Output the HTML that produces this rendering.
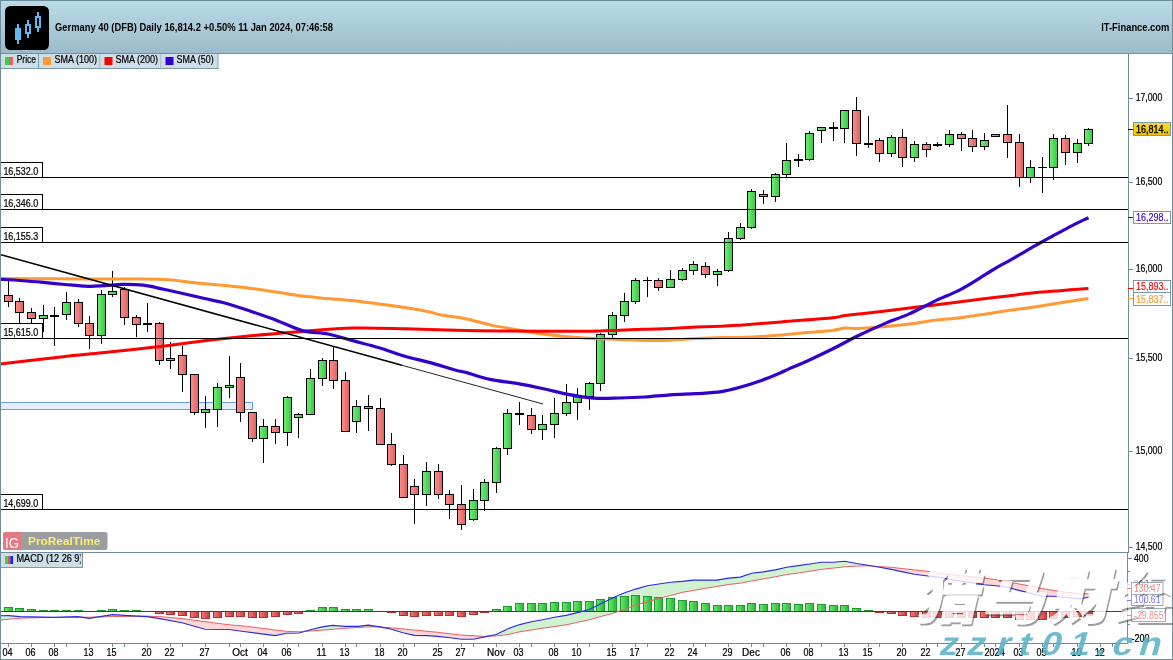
<!DOCTYPE html>
<html lang="en"><head><meta charset="utf-8"><title>Germany 40 (DFB) Daily</title>
<style>
html,body{margin:0;padding:0;background:#fff;}
body{width:1173px;height:660px;overflow:hidden;font-family:'Liberation Sans', sans-serif;}
svg{display:block;}
text{font-family:'Liberation Sans', sans-serif;}
text.s{stroke:#000;stroke-width:0.22px;}
.cjk{font-family:'Liberation Sans', 'Noto Sans CJK SC', sans-serif;}
</style></head><body>
<svg width="1173" height="660" viewBox="0 0 1173 660">
<defs>
<linearGradient id="hdr" x1="0" y1="0" x2="0" y2="1"><stop offset="0" stop-color="#badbe8"/><stop offset="1" stop-color="#9bbbca"/></linearGradient>
<linearGradient id="gg" x1="0" y1="0" x2="1" y2="0"><stop offset="0" stop-color="#6cf06c"/><stop offset="1" stop-color="#3cc84c"/></linearGradient>
<linearGradient id="rg" x1="0" y1="0" x2="1" y2="0"><stop offset="0" stop-color="#ff8a8a"/><stop offset="1" stop-color="#dc6464"/></linearGradient>
<linearGradient id="hg" x1="0" y1="0" x2="1" y2="0"><stop offset="0" stop-color="#66e866"/><stop offset="1" stop-color="#2eb83e"/></linearGradient>
<linearGradient id="hr" x1="0" y1="0" x2="1" y2="0"><stop offset="0" stop-color="#f07878"/><stop offset="1" stop-color="#cc3c3c"/></linearGradient>
<linearGradient id="yl" x1="0" y1="0" x2="0" y2="1"><stop offset="0" stop-color="#ffdc28"/><stop offset="1" stop-color="#f2c000"/></linearGradient>
<clipPath id="macdclip"><rect x="2" y="553" width="78.8" height="14"/></clipPath>
</defs>
<rect x="0" y="0" width="1173" height="660" fill="#fff"/>

<rect x="0" y="0" width="1173" height="53" fill="url(#hdr)"/>
<rect x="0" y="53" width="1173" height="1" fill="#7391a0"/>
<rect x="5" y="6" width="44" height="44" rx="5.5" ry="5.5" fill="#000"/>
<g fill="#5fb8ee" shape-rendering="crispEdges">
<rect x="17" y="24" width="2" height="20"/><rect x="15" y="28" width="6" height="12"/>
<rect x="27" y="20" width="2" height="18"/><rect x="25" y="24" width="6" height="10"/><rect x="27" y="26" width="2" height="6" fill="#000"/>
<rect x="37" y="12" width="2" height="20"/><rect x="35" y="16" width="6" height="12"/><rect x="37" y="18" width="2" height="8" fill="#000"/>
</g>
<text x="55" y="30.8" font-size="10" font-weight="bold" fill="#000" textLength="278" lengthAdjust="spacingAndGlyphs">Germany 40 (DFB) Daily 16,814.2 +0.50% 11 Jan 2024, 07:46:58</text>
<text x="1101.2" y="30.8" font-size="10" font-weight="bold" fill="#000" textLength="68.2" lengthAdjust="spacingAndGlyphs">IT-Finance.com</text>
<rect x="1" y="54" width="37" height="14" fill="#cddee6"/>
<rect x="38" y="54" width="1" height="15" fill="#7c99a7"/>
<rect x="5" y="57" width="4" height="8" fill="#44cc44"/><rect x="9" y="57" width="4" height="8" fill="#e26464"/>
<text x="16.7" y="63" class="s" font-size="10" fill="#000" textLength="19.3" lengthAdjust="spacingAndGlyphs">Price</text>
<rect x="39" y="54" width="60.5" height="14" fill="#cddee6"/>
<rect x="99.5" y="54" width="1" height="15" fill="#7c99a7"/>
<rect x="43" y="57" width="8" height="8" fill="#ff9933"/>
<text x="54.5" y="63" class="s" font-size="10" fill="#000" textLength="42.6" lengthAdjust="spacingAndGlyphs">SMA (100)</text>
<rect x="100.5" y="54" width="60.0" height="14" fill="#cddee6"/>
<rect x="160.5" y="54" width="1" height="15" fill="#7c99a7"/>
<rect x="104.5" y="57" width="8" height="8" fill="#ff0000"/>
<text x="115.5" y="63" class="s" font-size="10" fill="#000" textLength="42.6" lengthAdjust="spacingAndGlyphs">SMA (200)</text>
<rect x="161.5" y="54" width="56.0" height="14" fill="#cddee6"/>
<rect x="217.5" y="54" width="1" height="15" fill="#7c99a7"/>
<rect x="165.5" y="57" width="8" height="8" fill="#3300cc"/>
<text x="176.5" y="63" class="s" font-size="10" fill="#000" textLength="37.2" lengthAdjust="spacingAndGlyphs">SMA (50)</text>
<rect x="1" y="68" width="217.5" height="1" fill="#7c99a7"/>
<rect x="0.5" y="402.5" width="252" height="7" fill="#e6edfc" stroke="#6a9cf5" stroke-width="1"/>
<g shape-rendering="crispEdges">
<rect x="8" y="280" width="1" height="27" fill="#000"/>
<rect x="4" y="295" width="9" height="7" fill="#000"/>
<rect x="5" y="296" width="7" height="5" fill="url(#rg)"/>
<rect x="19" y="298" width="1" height="26" fill="#000"/>
<rect x="15" y="301" width="9" height="12" fill="#000"/>
<rect x="16" y="302" width="7" height="10" fill="url(#rg)"/>
<rect x="31" y="308" width="1" height="16" fill="#000"/>
<rect x="27" y="312" width="9" height="7" fill="#000"/>
<rect x="28" y="313" width="7" height="5" fill="url(#rg)"/>
<rect x="43" y="305" width="1" height="27" fill="#000"/>
<rect x="39" y="315" width="9" height="4" fill="#000"/>
<rect x="40" y="316" width="7" height="2" fill="url(#gg)"/>
<rect x="54" y="307" width="1" height="39" fill="#000"/>
<rect x="50" y="315" width="9" height="2" fill="#000"/>
<rect x="66" y="292" width="1" height="28" fill="#000"/>
<rect x="62" y="302" width="9" height="13" fill="#000"/>
<rect x="63" y="303" width="7" height="11" fill="url(#gg)"/>
<rect x="78" y="299" width="1" height="28" fill="#000"/>
<rect x="74" y="302" width="9" height="22" fill="#000"/>
<rect x="75" y="303" width="7" height="20" fill="url(#rg)"/>
<rect x="89" y="316" width="1" height="33" fill="#000"/>
<rect x="85" y="323" width="9" height="13" fill="#000"/>
<rect x="86" y="324" width="7" height="11" fill="url(#rg)"/>
<rect x="101" y="290" width="1" height="54" fill="#000"/>
<rect x="97" y="294" width="9" height="42" fill="#000"/>
<rect x="98" y="295" width="7" height="40" fill="url(#gg)"/>
<rect x="112" y="271" width="1" height="26" fill="#000"/>
<rect x="108" y="291" width="9" height="4" fill="#000"/>
<rect x="109" y="292" width="7" height="2" fill="url(#gg)"/>
<rect x="124" y="287" width="1" height="38" fill="#000"/>
<rect x="120" y="289" width="9" height="29" fill="#000"/>
<rect x="121" y="290" width="7" height="27" fill="url(#rg)"/>
<rect x="136" y="315" width="1" height="22" fill="#000"/>
<rect x="132" y="317" width="9" height="8" fill="#000"/>
<rect x="133" y="318" width="7" height="6" fill="url(#rg)"/>
<rect x="147" y="303" width="1" height="29" fill="#000"/>
<rect x="143" y="323" width="9" height="2" fill="#000"/>
<rect x="159" y="322" width="1" height="43" fill="#000"/>
<rect x="155" y="323" width="9" height="38" fill="#000"/>
<rect x="156" y="324" width="7" height="36" fill="url(#rg)"/>
<rect x="170" y="342" width="1" height="27" fill="#000"/>
<rect x="166" y="358" width="9" height="3" fill="#000"/>
<rect x="167" y="359" width="7" height="1" fill="url(#gg)"/>
<rect x="182" y="346" width="1" height="46" fill="#000"/>
<rect x="178" y="355" width="9" height="20" fill="#000"/>
<rect x="179" y="356" width="7" height="18" fill="url(#rg)"/>
<rect x="194" y="374" width="1" height="41" fill="#000"/>
<rect x="190" y="374" width="9" height="39" fill="#000"/>
<rect x="191" y="375" width="7" height="37" fill="url(#rg)"/>
<rect x="205" y="396" width="1" height="32" fill="#000"/>
<rect x="201" y="409" width="9" height="4" fill="#000"/>
<rect x="202" y="410" width="7" height="2" fill="url(#gg)"/>
<rect x="217" y="383" width="1" height="44" fill="#000"/>
<rect x="213" y="387" width="9" height="23" fill="#000"/>
<rect x="214" y="388" width="7" height="21" fill="url(#gg)"/>
<rect x="229" y="356" width="1" height="42" fill="#000"/>
<rect x="225" y="385" width="9" height="3" fill="#000"/>
<rect x="226" y="386" width="7" height="1" fill="url(#gg)"/>
<rect x="240" y="363" width="1" height="59" fill="#000"/>
<rect x="236" y="377" width="9" height="36" fill="#000"/>
<rect x="237" y="378" width="7" height="34" fill="url(#rg)"/>
<rect x="252" y="412" width="1" height="30" fill="#000"/>
<rect x="248" y="412" width="9" height="27" fill="#000"/>
<rect x="249" y="413" width="7" height="25" fill="url(#rg)"/>
<rect x="263" y="419" width="1" height="44" fill="#000"/>
<rect x="259" y="426" width="9" height="13" fill="#000"/>
<rect x="260" y="427" width="7" height="11" fill="url(#gg)"/>
<rect x="275" y="419" width="1" height="25" fill="#000"/>
<rect x="271" y="426" width="9" height="7" fill="#000"/>
<rect x="272" y="427" width="7" height="5" fill="url(#rg)"/>
<rect x="287" y="396" width="1" height="50" fill="#000"/>
<rect x="283" y="397" width="9" height="36" fill="#000"/>
<rect x="284" y="398" width="7" height="34" fill="url(#gg)"/>
<rect x="298" y="413" width="1" height="25" fill="#000"/>
<rect x="294" y="414" width="9" height="4" fill="#000"/>
<rect x="295" y="415" width="7" height="2" fill="url(#gg)"/>
<rect x="310" y="369" width="1" height="45" fill="#000"/>
<rect x="306" y="378" width="9" height="37" fill="#000"/>
<rect x="307" y="379" width="7" height="35" fill="url(#gg)"/>
<rect x="322" y="358" width="1" height="28" fill="#000"/>
<rect x="318" y="360" width="9" height="19" fill="#000"/>
<rect x="319" y="361" width="7" height="17" fill="url(#gg)"/>
<rect x="333" y="347" width="1" height="42" fill="#000"/>
<rect x="329" y="360" width="9" height="21" fill="#000"/>
<rect x="330" y="361" width="7" height="19" fill="url(#rg)"/>
<rect x="345" y="372" width="1" height="60" fill="#000"/>
<rect x="341" y="380" width="9" height="52" fill="#000"/>
<rect x="342" y="381" width="7" height="50" fill="url(#rg)"/>
<rect x="356" y="400" width="1" height="33" fill="#000"/>
<rect x="352" y="406" width="9" height="16" fill="#000"/>
<rect x="353" y="407" width="7" height="14" fill="url(#gg)"/>
<rect x="368" y="395" width="1" height="36" fill="#000"/>
<rect x="364" y="406" width="9" height="3" fill="#000"/>
<rect x="365" y="407" width="7" height="1" fill="url(#rg)"/>
<rect x="380" y="398" width="1" height="47" fill="#000"/>
<rect x="376" y="408" width="9" height="37" fill="#000"/>
<rect x="377" y="409" width="7" height="35" fill="url(#rg)"/>
<rect x="391" y="433" width="1" height="33" fill="#000"/>
<rect x="387" y="444" width="9" height="21" fill="#000"/>
<rect x="388" y="445" width="7" height="19" fill="url(#rg)"/>
<rect x="403" y="455" width="1" height="43" fill="#000"/>
<rect x="399" y="464" width="9" height="34" fill="#000"/>
<rect x="400" y="465" width="7" height="32" fill="url(#rg)"/>
<rect x="414" y="479" width="1" height="45" fill="#000"/>
<rect x="410" y="486" width="9" height="9" fill="#000"/>
<rect x="411" y="487" width="7" height="7" fill="url(#rg)"/>
<rect x="426" y="462" width="1" height="44" fill="#000"/>
<rect x="422" y="471" width="9" height="24" fill="#000"/>
<rect x="423" y="472" width="7" height="22" fill="url(#gg)"/>
<rect x="438" y="464" width="1" height="35" fill="#000"/>
<rect x="434" y="471" width="9" height="24" fill="#000"/>
<rect x="435" y="472" width="7" height="22" fill="url(#rg)"/>
<rect x="449" y="490" width="1" height="29" fill="#000"/>
<rect x="445" y="494" width="9" height="11" fill="#000"/>
<rect x="446" y="495" width="7" height="9" fill="url(#rg)"/>
<rect x="461" y="485" width="1" height="45" fill="#000"/>
<rect x="457" y="504" width="9" height="21" fill="#000"/>
<rect x="458" y="505" width="7" height="19" fill="url(#rg)"/>
<rect x="473" y="489" width="1" height="32" fill="#000"/>
<rect x="469" y="500" width="9" height="20" fill="#000"/>
<rect x="470" y="501" width="7" height="18" fill="url(#gg)"/>
<rect x="484" y="479" width="1" height="32" fill="#000"/>
<rect x="480" y="482" width="9" height="19" fill="#000"/>
<rect x="481" y="483" width="7" height="17" fill="url(#gg)"/>
<rect x="496" y="447" width="1" height="46" fill="#000"/>
<rect x="492" y="448" width="9" height="35" fill="#000"/>
<rect x="493" y="449" width="7" height="33" fill="url(#gg)"/>
<rect x="507" y="409" width="1" height="46" fill="#000"/>
<rect x="503" y="413" width="9" height="36" fill="#000"/>
<rect x="504" y="414" width="7" height="34" fill="url(#gg)"/>
<rect x="519" y="402" width="1" height="23" fill="#000"/>
<rect x="515" y="413" width="9" height="2" fill="#000"/>
<rect x="531" y="408" width="1" height="26" fill="#000"/>
<rect x="527" y="415" width="9" height="15" fill="#000"/>
<rect x="528" y="416" width="7" height="13" fill="url(#rg)"/>
<rect x="542" y="415" width="1" height="25" fill="#000"/>
<rect x="538" y="424" width="9" height="6" fill="#000"/>
<rect x="539" y="425" width="7" height="4" fill="url(#gg)"/>
<rect x="554" y="398" width="1" height="40" fill="#000"/>
<rect x="550" y="413" width="9" height="12" fill="#000"/>
<rect x="551" y="414" width="7" height="10" fill="url(#gg)"/>
<rect x="566" y="384" width="1" height="32" fill="#000"/>
<rect x="562" y="402" width="9" height="12" fill="#000"/>
<rect x="563" y="403" width="7" height="10" fill="url(#gg)"/>
<rect x="577" y="388" width="1" height="32" fill="#000"/>
<rect x="573" y="395" width="9" height="8" fill="#000"/>
<rect x="574" y="396" width="7" height="6" fill="url(#gg)"/>
<rect x="589" y="382" width="1" height="28" fill="#000"/>
<rect x="585" y="383" width="9" height="14" fill="#000"/>
<rect x="586" y="384" width="7" height="12" fill="url(#gg)"/>
<rect x="600" y="333" width="1" height="58" fill="#000"/>
<rect x="596" y="334" width="9" height="50" fill="#000"/>
<rect x="597" y="335" width="7" height="48" fill="url(#gg)"/>
<rect x="612" y="312" width="1" height="26" fill="#000"/>
<rect x="608" y="315" width="9" height="20" fill="#000"/>
<rect x="609" y="316" width="7" height="18" fill="url(#gg)"/>
<rect x="624" y="293" width="1" height="29" fill="#000"/>
<rect x="620" y="301" width="9" height="15" fill="#000"/>
<rect x="621" y="302" width="7" height="13" fill="url(#gg)"/>
<rect x="635" y="278" width="1" height="26" fill="#000"/>
<rect x="631" y="280" width="9" height="22" fill="#000"/>
<rect x="632" y="281" width="7" height="20" fill="url(#gg)"/>
<rect x="647" y="277" width="1" height="20" fill="#000"/>
<rect x="643" y="280" width="9" height="1" fill="#000"/>
<rect x="658" y="278" width="1" height="13" fill="#000"/>
<rect x="654" y="280" width="9" height="8" fill="#000"/>
<rect x="655" y="281" width="7" height="6" fill="url(#rg)"/>
<rect x="670" y="270" width="1" height="18" fill="#000"/>
<rect x="666" y="279" width="9" height="9" fill="#000"/>
<rect x="667" y="280" width="7" height="7" fill="url(#gg)"/>
<rect x="682" y="268" width="1" height="13" fill="#000"/>
<rect x="678" y="270" width="9" height="10" fill="#000"/>
<rect x="679" y="271" width="7" height="8" fill="url(#gg)"/>
<rect x="693" y="261" width="1" height="14" fill="#000"/>
<rect x="689" y="264" width="9" height="7" fill="#000"/>
<rect x="690" y="265" width="7" height="5" fill="url(#gg)"/>
<rect x="705" y="262" width="1" height="16" fill="#000"/>
<rect x="701" y="266" width="9" height="9" fill="#000"/>
<rect x="702" y="267" width="7" height="7" fill="url(#rg)"/>
<rect x="717" y="269" width="1" height="17" fill="#000"/>
<rect x="713" y="271" width="9" height="4" fill="#000"/>
<rect x="714" y="272" width="7" height="2" fill="url(#gg)"/>
<rect x="728" y="232" width="1" height="40" fill="#000"/>
<rect x="724" y="238" width="9" height="33" fill="#000"/>
<rect x="725" y="239" width="7" height="31" fill="url(#gg)"/>
<rect x="740" y="223" width="1" height="17" fill="#000"/>
<rect x="736" y="227" width="9" height="12" fill="#000"/>
<rect x="737" y="228" width="7" height="10" fill="url(#gg)"/>
<rect x="751" y="189" width="1" height="40" fill="#000"/>
<rect x="747" y="191" width="9" height="37" fill="#000"/>
<rect x="748" y="192" width="7" height="35" fill="url(#gg)"/>
<rect x="763" y="190" width="1" height="14" fill="#000"/>
<rect x="759" y="194" width="9" height="3" fill="#000"/>
<rect x="760" y="195" width="7" height="1" fill="url(#rg)"/>
<rect x="775" y="173" width="1" height="29" fill="#000"/>
<rect x="771" y="174" width="9" height="23" fill="#000"/>
<rect x="772" y="175" width="7" height="21" fill="url(#gg)"/>
<rect x="786" y="143" width="1" height="35" fill="#000"/>
<rect x="782" y="160" width="9" height="15" fill="#000"/>
<rect x="783" y="161" width="7" height="13" fill="url(#gg)"/>
<rect x="798" y="154" width="1" height="13" fill="#000"/>
<rect x="794" y="159" width="9" height="2" fill="#000"/>
<rect x="809" y="131" width="1" height="30" fill="#000"/>
<rect x="805" y="133" width="9" height="27" fill="#000"/>
<rect x="806" y="134" width="7" height="25" fill="url(#gg)"/>
<rect x="821" y="127" width="1" height="16" fill="#000"/>
<rect x="817" y="127" width="9" height="4" fill="#000"/>
<rect x="818" y="128" width="7" height="2" fill="url(#gg)"/>
<rect x="833" y="122" width="1" height="19" fill="#000"/>
<rect x="829" y="127" width="9" height="2" fill="#000"/>
<rect x="844" y="110" width="1" height="33" fill="#000"/>
<rect x="840" y="110" width="9" height="19" fill="#000"/>
<rect x="841" y="111" width="7" height="17" fill="url(#gg)"/>
<rect x="856" y="97" width="1" height="59" fill="#000"/>
<rect x="852" y="110" width="9" height="34" fill="#000"/>
<rect x="853" y="111" width="7" height="32" fill="url(#rg)"/>
<rect x="868" y="116" width="1" height="32" fill="#000"/>
<rect x="864" y="143" width="9" height="2" fill="#000"/>
<rect x="879" y="138" width="1" height="24" fill="#000"/>
<rect x="875" y="140" width="9" height="14" fill="#000"/>
<rect x="876" y="141" width="7" height="12" fill="url(#rg)"/>
<rect x="891" y="135" width="1" height="22" fill="#000"/>
<rect x="887" y="137" width="9" height="17" fill="#000"/>
<rect x="888" y="138" width="7" height="15" fill="url(#gg)"/>
<rect x="902" y="129" width="1" height="38" fill="#000"/>
<rect x="898" y="137" width="9" height="21" fill="#000"/>
<rect x="899" y="138" width="7" height="19" fill="url(#rg)"/>
<rect x="914" y="141" width="1" height="21" fill="#000"/>
<rect x="910" y="144" width="9" height="14" fill="#000"/>
<rect x="911" y="145" width="7" height="12" fill="url(#gg)"/>
<rect x="926" y="142" width="1" height="15" fill="#000"/>
<rect x="922" y="144" width="9" height="6" fill="#000"/>
<rect x="923" y="145" width="7" height="4" fill="url(#rg)"/>
<rect x="937" y="142" width="1" height="5" fill="#000"/>
<rect x="933" y="144" width="9" height="2" fill="#000"/>
<rect x="949" y="130" width="1" height="17" fill="#000"/>
<rect x="945" y="134" width="9" height="11" fill="#000"/>
<rect x="946" y="135" width="7" height="9" fill="url(#gg)"/>
<rect x="961" y="132" width="1" height="19" fill="#000"/>
<rect x="957" y="134" width="9" height="5" fill="#000"/>
<rect x="958" y="135" width="7" height="3" fill="url(#rg)"/>
<rect x="972" y="130" width="1" height="22" fill="#000"/>
<rect x="968" y="138" width="9" height="9" fill="#000"/>
<rect x="969" y="139" width="7" height="7" fill="url(#rg)"/>
<rect x="984" y="133" width="1" height="17" fill="#000"/>
<rect x="980" y="140" width="9" height="7" fill="#000"/>
<rect x="981" y="141" width="7" height="5" fill="url(#gg)"/>
<rect x="995" y="134" width="1" height="2" fill="#000"/>
<rect x="991" y="134" width="9" height="3" fill="#000"/>
<rect x="992" y="135" width="7" height="1" fill="url(#gg)"/>
<rect x="1007" y="105" width="1" height="53" fill="#000"/>
<rect x="1003" y="134" width="9" height="9" fill="#000"/>
<rect x="1004" y="135" width="7" height="7" fill="url(#rg)"/>
<rect x="1019" y="134" width="1" height="53" fill="#000"/>
<rect x="1015" y="142" width="9" height="36" fill="#000"/>
<rect x="1016" y="143" width="7" height="34" fill="url(#rg)"/>
<rect x="1030" y="160" width="1" height="23" fill="#000"/>
<rect x="1026" y="167" width="9" height="11" fill="#000"/>
<rect x="1027" y="168" width="7" height="9" fill="url(#gg)"/>
<rect x="1042" y="157" width="1" height="36" fill="#000"/>
<rect x="1038" y="167" width="9" height="1" fill="#000"/>
<rect x="1053" y="134" width="1" height="46" fill="#000"/>
<rect x="1049" y="138" width="9" height="30" fill="#000"/>
<rect x="1050" y="139" width="7" height="28" fill="url(#gg)"/>
<rect x="1065" y="135" width="1" height="30" fill="#000"/>
<rect x="1061" y="138" width="9" height="15" fill="#000"/>
<rect x="1062" y="139" width="7" height="13" fill="url(#rg)"/>
<rect x="1077" y="139" width="1" height="24" fill="#000"/>
<rect x="1073" y="143" width="9" height="10" fill="#000"/>
<rect x="1074" y="144" width="7" height="8" fill="url(#gg)"/>
<rect x="1088" y="128" width="1" height="18" fill="#000"/>
<rect x="1084" y="129" width="9" height="15" fill="#000"/>
<rect x="1085" y="130" width="7" height="13" fill="url(#gg)"/>
</g>
<path d="M0.0,278.5 C10.2,278.6 40.5,278.7 61.0,278.8 C81.5,278.9 105.7,279.0 122.8,279.1 C139.9,279.2 150.8,278.8 163.7,279.5 C176.6,280.2 189.8,282.3 200.0,283.3 C210.2,284.3 216.5,284.8 225.0,285.6 C233.5,286.5 242.7,287.3 251.2,288.4 C259.7,289.5 267.5,290.7 276.0,292.0 C284.5,293.3 293.7,295.0 302.4,296.1 C311.1,297.2 319.5,297.8 328.0,298.6 C336.5,299.4 345.1,299.8 353.6,300.7 C362.1,301.6 370.5,302.9 379.0,304.0 C387.5,305.1 396.3,306.3 404.8,307.6 C413.3,308.9 424.1,310.8 430.0,312.0 C435.9,313.2 434.1,313.7 440.0,314.8 C445.9,315.9 457.1,317.0 465.6,318.7 C474.1,320.4 482.7,323.3 491.2,325.1 C499.7,326.9 508.3,328.2 516.8,329.7 C525.3,331.2 533.9,332.8 542.4,334.0 C550.9,335.2 559.5,336.0 568.0,336.8 C576.5,337.6 585.1,338.2 593.6,338.6 C602.1,339.0 610.7,339.1 619.2,339.4 C627.7,339.7 636.3,340.3 644.8,340.4 C653.3,340.5 661.9,340.5 670.4,340.2 C678.9,339.9 687.5,339.0 696.0,338.6 C704.5,338.2 714.2,337.8 721.5,337.6 C728.8,337.4 732.6,337.6 740.0,337.4 C747.4,337.2 754.7,337.0 765.8,336.2 C776.9,335.4 795.7,333.6 806.8,332.6 C817.9,331.7 826.0,331.3 832.4,330.5 C838.8,329.7 840.9,328.3 845.2,328.0 C849.5,327.7 851.6,328.7 858.0,328.5 C864.4,328.3 875.1,327.4 883.6,326.7 C892.1,326.0 900.7,325.2 909.2,324.1 C917.7,323.0 926.3,321.4 934.8,320.3 C943.3,319.2 951.9,318.8 960.4,317.7 C968.9,316.6 977.5,315.2 986.0,313.9 C994.5,312.6 1003.1,311.3 1011.5,310.1 C1019.9,308.9 1029.1,307.9 1036.3,306.8 C1043.5,305.7 1045.8,305.1 1054.5,303.7 C1063.2,302.3 1082.8,299.5 1088.5,298.6" fill="none" stroke="#ff9933" stroke-width="3" stroke-linejoin="round"/>
<path d="M0.0,364.0 C10.2,362.8 44.3,358.8 61.4,356.9 C78.5,355.0 86.6,354.4 102.3,352.8 C118.0,351.2 138.4,349.0 155.5,347.0 C172.6,345.0 188.7,342.7 204.6,340.8 C220.5,338.9 234.9,337.3 251.2,335.7 C267.5,334.1 285.3,332.7 302.4,331.4 C319.5,330.1 336.5,328.5 353.6,328.1 C370.7,327.7 387.7,328.4 404.8,328.8 C421.9,329.2 440.1,329.9 456.0,330.3 C471.9,330.7 485.7,330.9 500.0,331.0 C514.3,331.1 528.7,331.2 542.0,331.2 C555.3,331.2 570.3,331.2 580.0,331.2 C589.7,331.2 593.5,331.2 600.0,331.0 C606.5,330.8 611.7,330.5 619.2,330.2 C626.7,329.9 636.3,329.5 644.8,329.2 C653.3,328.9 661.9,328.8 670.4,328.4 C678.9,328.0 687.5,327.5 696.0,327.1 C704.5,326.8 714.2,326.6 721.5,326.3 C728.8,326.0 730.0,325.9 740.0,325.2 C750.0,324.5 765.8,323.1 781.2,321.9 C796.6,320.6 821.7,318.8 832.4,317.7 C843.1,316.6 836.7,316.7 845.2,315.6 C853.7,314.5 868.7,313.1 883.6,311.3 C898.5,309.5 917.7,307.0 934.8,304.9 C951.9,302.8 973.2,300.1 986.0,298.5 C998.8,296.9 1003.1,296.5 1011.5,295.5 C1019.9,294.5 1023.5,293.8 1036.3,292.6 C1049.1,291.4 1079.8,289.1 1088.5,288.4" fill="none" stroke="#ff0000" stroke-width="3" stroke-linejoin="round"/>
<path d="M0.0,279.3 C3.3,279.5 13.2,280.0 20.0,280.5 C26.8,281.0 33.4,281.5 40.9,282.2 C48.4,282.9 57.1,283.8 65.0,284.5 C72.8,285.2 81.3,286.1 88.0,286.3 C94.7,286.5 99.2,285.9 105.0,285.6 C110.8,285.3 116.4,284.5 122.8,284.4 C129.2,284.3 136.4,284.4 143.2,285.2 C150.0,286.0 156.7,287.8 163.7,289.3 C170.7,290.8 178.2,292.5 185.0,294.0 C191.8,295.5 197.8,297.0 204.6,298.5 C211.4,300.0 217.8,301.1 225.6,303.2 C233.4,305.3 242.7,308.5 251.2,311.4 C259.7,314.3 268.3,317.2 276.8,320.4 C285.3,323.6 293.9,328.3 302.4,330.6 C310.9,332.9 319.5,332.3 328.0,334.0 C336.5,335.7 345.1,338.6 353.6,340.9 C362.1,343.2 370.7,345.2 379.2,347.8 C387.7,350.4 396.3,353.7 404.8,356.2 C413.3,358.7 421.9,360.2 430.4,362.6 C438.9,365.0 450.1,368.7 456.0,370.3 C461.9,371.9 459.7,370.8 465.6,372.4 C471.5,373.9 482.7,377.8 491.2,379.6 C499.7,381.4 508.3,381.9 516.8,383.4 C525.3,384.9 533.9,386.7 542.4,388.5 C550.9,390.3 559.5,392.8 568.0,394.4 C576.5,396.0 585.1,397.5 593.6,398.1 C602.1,398.7 610.7,398.2 619.2,398.0 C627.7,397.8 636.3,397.5 644.8,397.0 C653.3,396.5 661.9,395.4 670.4,394.9 C678.9,394.3 687.5,394.2 696.0,393.7 C704.5,393.1 714.2,392.7 721.5,391.6 C728.8,390.5 733.6,389.1 740.0,387.3 C746.4,385.5 753.3,383.4 760.0,381.0 C766.7,378.6 775.2,375.0 780.0,373.0 C784.8,371.0 784.4,370.9 788.9,368.9 C793.4,366.9 799.5,364.5 806.8,361.2 C814.0,357.9 823.9,353.2 832.4,349.0 C840.9,344.8 849.5,339.8 858.0,335.7 C866.5,331.6 875.1,327.7 883.6,324.1 C892.1,320.5 900.7,317.7 909.2,313.9 C917.7,310.1 926.3,305.2 934.8,301.1 C943.3,297.1 951.9,294.1 960.4,289.6 C968.9,285.1 980.0,277.8 986.0,274.2 C992.0,270.6 992.0,270.3 996.2,267.8 C1000.5,265.3 1005.9,262.6 1011.5,259.4 C1017.1,256.2 1025.9,251.0 1030.0,248.6 C1034.1,246.2 1032.5,247.1 1036.3,245.0 C1040.1,242.9 1046.6,239.3 1052.7,236.0 C1058.8,232.7 1066.7,228.4 1072.7,225.3 C1078.7,222.2 1085.9,219.0 1088.5,217.7" fill="none" stroke="#3300cc" stroke-width="3.2" stroke-linejoin="round"/>
<line x1="0" y1="254.5" x2="402" y2="365.3" stroke="#000" stroke-width="1.6"/>
<line x1="402" y1="365.3" x2="543" y2="404" stroke="#222" stroke-width="1"/>
<g shape-rendering="crispEdges">
<rect x="1" y="177" width="1127" height="1" fill="#000"/>
<rect x="1" y="162" width="42" height="15" fill="#fff"/>
<rect x="1" y="162" width="42" height="1" fill="#000"/>
<rect x="42" y="162" width="1" height="15" fill="#000"/>
<rect x="1" y="209" width="1127" height="1" fill="#000"/>
<rect x="1" y="194" width="42" height="15" fill="#fff"/>
<rect x="1" y="194" width="42" height="1" fill="#000"/>
<rect x="42" y="194" width="1" height="15" fill="#000"/>
<rect x="1" y="242" width="1127" height="1" fill="#000"/>
<rect x="1" y="227" width="42" height="15" fill="#fff"/>
<rect x="1" y="227" width="42" height="1" fill="#000"/>
<rect x="42" y="227" width="1" height="15" fill="#000"/>
<rect x="1" y="338" width="1127" height="1" fill="#000"/>
<rect x="1" y="323" width="42" height="15" fill="#fff"/>
<rect x="1" y="323" width="42" height="1" fill="#000"/>
<rect x="42" y="323" width="1" height="15" fill="#000"/>
<rect x="1" y="509" width="1127" height="1" fill="#000"/>
<rect x="1" y="494" width="42" height="15" fill="#fff"/>
<rect x="1" y="494" width="42" height="1" fill="#000"/>
<rect x="42" y="494" width="1" height="15" fill="#000"/>
</g>
<text x="3.4" y="175" class="s" font-size="10" fill="#000" textLength="34.8" lengthAdjust="spacingAndGlyphs">16,532.0</text>
<text x="3.4" y="207" class="s" font-size="10" fill="#000" textLength="34.8" lengthAdjust="spacingAndGlyphs">16,346.0</text>
<text x="3.4" y="240" class="s" font-size="10" fill="#000" textLength="34.8" lengthAdjust="spacingAndGlyphs">16,155.3</text>
<text x="3.4" y="336" class="s" font-size="10" fill="#000" textLength="34.8" lengthAdjust="spacingAndGlyphs">15,615.0</text>
<text x="3.4" y="507" class="s" font-size="10" fill="#000" textLength="34.8" lengthAdjust="spacingAndGlyphs">14,699.0</text>
<g shape-rendering="crispEdges">
<rect x="1128" y="69" width="45" height="484" fill="#fff"/>
<rect x="1128" y="54" width="1" height="499" fill="#6f8c9b"/>
<rect x="1128" y="98" width="5" height="1" fill="#6f8c9b"/>
<rect x="1128" y="182" width="5" height="1" fill="#6f8c9b"/>
<rect x="1128" y="269" width="5" height="1" fill="#6f8c9b"/>
<rect x="1128" y="358" width="5" height="1" fill="#6f8c9b"/>
<rect x="1128" y="451" width="5" height="1" fill="#6f8c9b"/>
<rect x="1128" y="547" width="5" height="1" fill="#6f8c9b"/>
</g>
<text x="1135.7" y="100.9" class="s" font-size="10" fill="#000" textLength="26.6" lengthAdjust="spacingAndGlyphs">17,000</text>
<text x="1135.7" y="184.9" class="s" font-size="10" fill="#000" textLength="26.6" lengthAdjust="spacingAndGlyphs">16,500</text>
<text x="1135.7" y="271.9" class="s" font-size="10" fill="#000" textLength="26.6" lengthAdjust="spacingAndGlyphs">16,000</text>
<text x="1135.7" y="360.9" class="s" font-size="10" fill="#000" textLength="26.6" lengthAdjust="spacingAndGlyphs">15,500</text>
<text x="1135.7" y="453.9" class="s" font-size="10" fill="#000" textLength="26.6" lengthAdjust="spacingAndGlyphs">15,000</text>
<text x="1135.7" y="549.9" class="s" font-size="10" fill="#000" textLength="26.6" lengthAdjust="spacingAndGlyphs">14,500</text>
<rect x="1128" y="129" width="6" height="1" fill="#000" shape-rendering="crispEdges"/>
<rect x="1133.5" y="122.5" width="37.0" height="13.0" fill="url(#yl)" stroke="#7c99a7" stroke-width="1"/>
<text x="1136" y="132.5" font-size="10" fill="#000" stroke="#000" stroke-width="0.35" textLength="32.5" lengthAdjust="spacingAndGlyphs">16,814..</text>
<rect x="1128" y="217" width="6" height="1" fill="#3300cc" shape-rendering="crispEdges"/>
<rect x="1133.5" y="211.5" width="37.0" height="12.0" fill="#fff" stroke="#7c99a7" stroke-width="1"/>
<text x="1136" y="220.5" font-size="10" fill="#3300cc" stroke="#3300cc" stroke-width="0.15" textLength="32.5" lengthAdjust="spacingAndGlyphs">16,298..</text>
<rect x="1128" y="288" width="6" height="1" fill="#ff0000" shape-rendering="crispEdges"/>
<rect x="1133.5" y="280.5" width="37.0" height="12.0" fill="#fff" stroke="#7c99a7" stroke-width="1"/>
<text x="1136" y="289.5" font-size="10" fill="#ff0000" stroke="#ff0000" stroke-width="0.15" textLength="32.5" lengthAdjust="spacingAndGlyphs">15,893..</text>
<rect x="1128" y="298" width="6" height="1" fill="#ff9933" shape-rendering="crispEdges"/>
<rect x="1133.5" y="292.5" width="37.0" height="13.0" fill="#fff" stroke="#7c99a7" stroke-width="1"/>
<text x="1136" y="302.5" font-size="10" fill="#ff9933" stroke="#ff9933" stroke-width="0.15" textLength="32.5" lengthAdjust="spacingAndGlyphs">15,837..</text>
<rect x="3" y="532" width="104.5" height="18" rx="2.5" fill="#9a9da1"/>
<path d="M5.5,532 H21 V550 H5.5 A2.5,2.5 0 0 1 3,547.5 V534.5 A2.5,2.5 0 0 1 5.5,532 Z" fill="#e5797f"/>
<text x="5" y="547.6" font-size="15.5" fill="#fff" textLength="14" lengthAdjust="spacingAndGlyphs">IG</text>
<text x="28" y="544.6" font-size="10.5" font-weight="bold" fill="#ffee70" textLength="72.3" lengthAdjust="spacingAndGlyphs">ProRealTime</text>
<rect x="0" y="552" width="1128" height="1" fill="#6f8c9b" shape-rendering="crispEdges"/>
<rect x="1" y="553" width="81" height="14" fill="#cddee6"/>
<rect x="82" y="553" width="1" height="15" fill="#7c99a7" shape-rendering="crispEdges"/><rect x="1" y="567" width="82" height="1" fill="#7c99a7" shape-rendering="crispEdges"/>
<rect x="5" y="556" width="2.7" height="8" fill="#44cc44"/><rect x="7.7" y="556" width="2.6" height="8" fill="#e05050"/><rect x="10.3" y="556" width="2.7" height="8" fill="#2222ee"/>
<text x="16.5" y="562" class="s" font-size="10" fill="#000" textLength="66" lengthAdjust="spacingAndGlyphs" clip-path="url(#macdclip)">MACD (12 26 9)</text>
<path d="M0.0,615.8 L2.0,615.8 L4.0,615.7 L6.0,615.7 L8.0,615.6 L10.0,615.7 L12.0,615.9 L14.0,616.1 L16.0,616.3 L18.0,616.4 L20.0,616.6 L22.0,616.6 L24.0,616.7 L26.0,616.7 L28.0,616.8 L30.0,616.8 L32.0,616.9 L34.0,616.9 L36.0,617.0 L38.0,617.0 L40.0,617.1 L42.0,617.1 L44.0,617.2 L46.0,617.2 L48.0,617.3 L50.0,617.3 L52.0,617.4 L54.0,617.4 L56.0,617.3 L58.0,617.3 L60.0,617.2 L62.0,617.1 L64.0,617.1 L66.0,617.0 L68.0,616.9 L70.0,616.9 L72.0,616.8 L74.0,616.7 L76.0,616.7 L78.0,616.6 L80.0,616.9 L82.0,617.2 L82.0,617.3 L80.0,617.3 L78.0,617.3 L76.0,617.3 L74.0,617.3 L72.0,617.3 L70.0,617.4 L68.0,617.4 L66.0,617.4 L64.0,617.4 L62.0,617.4 L60.0,617.4 L58.0,617.5 L56.0,617.5 L54.0,617.5 L52.0,617.5 L50.0,617.5 L48.0,617.5 L46.0,617.6 L44.0,617.6 L42.0,617.6 L40.0,617.6 L38.0,617.7 L36.0,617.7 L34.0,617.8 L32.0,617.9 L30.0,617.9 L28.0,618.0 L26.0,618.0 L24.0,618.1 L22.0,618.1 L20.0,618.2 L18.0,618.4 L16.0,618.6 L14.0,618.7 L12.0,618.9 L10.0,619.1 L8.0,619.3 L6.0,619.5 L4.0,619.6 L2.0,619.8 L0.0,620.0 Z" fill="#c8f0c8" fill-opacity="0.85"/>
<path d="M100.0,616.7 L102.0,616.3 L104.0,616.0 L106.0,615.7 L108.0,615.3 L110.0,615.0 L112.0,614.7 L114.0,614.7 L116.0,614.8 L118.0,615.0 L120.0,615.1 L122.0,615.2 L124.0,615.3 L126.0,615.5 L128.0,615.6 L130.0,615.7 L132.0,615.8 L134.0,615.9 L136.0,616.0 L138.0,616.1 L140.0,616.2 L140.0,616.3 L138.0,616.3 L136.0,616.3 L134.0,616.4 L132.0,616.4 L130.0,616.4 L128.0,616.4 L126.0,616.4 L124.0,616.5 L122.0,616.5 L120.0,616.5 L118.0,616.5 L116.0,616.6 L114.0,616.6 L112.0,616.6 L110.0,616.7 L108.0,616.7 L106.0,616.8 L104.0,616.8 L102.0,616.9 L100.0,616.9 Z" fill="#c8f0c8" fill-opacity="0.85"/>
<path d="M306.0,631.0 L308.0,630.4 L310.0,629.9 L312.0,629.4 L314.0,628.9 L316.0,628.4 L318.0,627.9 L320.0,627.5 L322.0,627.0 L324.0,626.6 L326.0,626.4 L328.0,626.1 L330.0,625.8 L332.0,625.5 L334.0,625.5 L336.0,625.7 L338.0,625.8 L340.0,626.0 L342.0,626.1 L344.0,626.3 L346.0,626.4 L348.0,626.4 L350.0,626.4 L352.0,626.4 L354.0,626.4 L356.0,626.4 L358.0,626.4 L360.0,626.1 L362.0,625.9 L364.0,625.6 L366.0,625.4 L368.0,625.1 L370.0,625.4 L372.0,625.7 L374.0,626.0 L376.0,626.3 L378.0,626.6 L378.0,626.9 L376.0,626.9 L374.0,626.9 L372.0,626.9 L370.0,626.9 L368.0,626.9 L366.0,627.0 L364.0,627.1 L362.0,627.3 L360.0,627.4 L358.0,627.5 L356.0,627.6 L354.0,627.7 L352.0,627.8 L350.0,627.9 L348.0,628.0 L346.0,628.2 L344.0,628.3 L342.0,628.5 L340.0,628.7 L338.0,628.8 L336.0,629.0 L334.0,629.2 L332.0,629.4 L330.0,629.5 L328.0,629.7 L326.0,629.9 L324.0,630.1 L322.0,630.2 L320.0,630.4 L318.0,630.5 L316.0,630.6 L314.0,630.8 L312.0,630.9 L310.0,631.1 L308.0,631.2 L306.0,631.3 Z" fill="#c8f0c8" fill-opacity="0.85"/>
<path d="M488.0,636.2 L490.0,635.8 L492.0,635.4 L494.0,635.0 L496.0,634.6 L498.0,633.7 L500.0,632.7 L502.0,631.7 L504.0,630.7 L506.0,629.7 L508.0,628.7 L510.0,628.0 L512.0,627.3 L514.0,626.6 L516.0,625.9 L518.0,625.2 L520.0,624.5 L522.0,624.0 L524.0,623.6 L526.0,623.1 L528.0,622.6 L530.0,622.1 L532.0,621.7 L534.0,621.3 L536.0,621.0 L538.0,620.6 L540.0,620.3 L542.0,619.9 L544.0,619.5 L546.0,619.1 L548.0,618.6 L550.0,618.2 L552.0,617.8 L554.0,617.3 L556.0,617.0 L558.0,616.7 L560.0,616.3 L562.0,616.0 L564.0,615.7 L566.0,615.4 L568.0,614.9 L570.0,614.4 L572.0,613.9 L574.0,613.5 L576.0,613.0 L578.0,612.5 L580.0,611.9 L582.0,611.4 L584.0,610.9 L586.0,610.4 L588.0,609.8 L590.0,609.1 L592.0,608.1 L594.0,607.1 L596.0,606.1 L598.0,605.1 L600.0,604.1 L602.0,603.1 L604.0,602.1 L606.0,601.2 L608.0,600.2 L610.0,599.2 L612.0,598.2 L614.0,597.3 L616.0,596.4 L618.0,595.6 L620.0,594.7 L622.0,593.8 L624.0,592.9 L626.0,592.2 L628.0,591.6 L630.0,590.9 L632.0,590.3 L634.0,589.6 L636.0,589.0 L638.0,588.4 L640.0,587.8 L642.0,587.3 L644.0,586.7 L646.0,586.2 L648.0,585.7 L650.0,585.4 L652.0,585.1 L654.0,584.8 L656.0,584.4 L658.0,584.1 L660.0,583.8 L662.0,583.5 L664.0,583.2 L666.0,582.9 L668.0,582.6 L670.0,582.3 L672.0,582.1 L674.0,582.0 L676.0,581.8 L678.0,581.7 L680.0,581.5 L682.0,581.4 L684.0,581.2 L686.0,581.0 L688.0,580.7 L690.0,580.5 L692.0,580.3 L694.0,580.1 L696.0,580.1 L698.0,580.1 L700.0,580.1 L702.0,580.1 L704.0,580.1 L706.0,580.1 L708.0,580.1 L710.0,580.1 L712.0,580.1 L714.0,580.1 L716.0,580.1 L718.0,579.9 L720.0,579.6 L722.0,579.2 L724.0,578.9 L726.0,578.5 L728.0,578.2 L730.0,578.0 L732.0,577.8 L734.0,577.6 L736.0,577.5 L738.0,577.3 L740.0,577.1 L742.0,576.5 L744.0,575.8 L746.0,575.2 L748.0,574.5 L750.0,573.8 L752.0,573.2 L754.0,573.0 L756.0,572.7 L758.0,572.5 L760.0,572.3 L762.0,572.1 L764.0,571.8 L766.0,571.5 L768.0,571.1 L770.0,570.8 L772.0,570.4 L774.0,570.1 L776.0,569.7 L778.0,569.3 L780.0,568.8 L782.0,568.4 L784.0,567.9 L786.0,567.5 L788.0,567.1 L790.0,566.8 L792.0,566.5 L794.0,566.2 L796.0,565.9 L798.0,565.7 L800.0,565.4 L802.0,565.1 L804.0,564.8 L806.0,564.5 L808.0,564.3 L810.0,564.0 L812.0,563.7 L814.0,563.4 L816.0,563.0 L818.0,562.7 L820.0,562.4 L822.0,562.2 L824.0,562.2 L826.0,562.2 L828.0,562.2 L830.0,562.2 L832.0,562.2 L834.0,562.1 L836.0,562.0 L838.0,561.8 L840.0,561.6 L842.0,561.4 L844.0,561.3 L846.0,561.5 L848.0,561.8 L850.0,562.2 L852.0,562.6 L854.0,563.0 L856.0,563.4 L858.0,563.7 L860.0,564.0 L862.0,564.4 L864.0,564.7 L866.0,565.0 L868.0,565.3 L870.0,565.6 L872.0,566.0 L872.0,566.1 L870.0,565.9 L868.0,565.8 L866.0,565.9 L864.0,565.9 L862.0,566.0 L860.0,566.0 L858.0,566.1 L856.0,566.1 L854.0,566.2 L852.0,566.4 L850.0,566.5 L848.0,566.6 L846.0,566.7 L844.0,566.9 L842.0,567.1 L840.0,567.3 L838.0,567.5 L836.0,567.8 L834.0,568.0 L832.0,568.2 L830.0,568.4 L828.0,568.7 L826.0,568.9 L824.0,569.1 L822.0,569.3 L820.0,569.6 L818.0,569.9 L816.0,570.2 L814.0,570.6 L812.0,570.9 L810.0,571.2 L808.0,571.5 L806.0,571.8 L804.0,572.1 L802.0,572.4 L800.0,572.7 L798.0,573.1 L796.0,573.3 L794.0,573.6 L792.0,573.8 L790.0,574.1 L788.0,574.3 L786.0,574.6 L784.0,575.0 L782.0,575.4 L780.0,575.8 L778.0,576.2 L776.0,576.6 L774.0,577.0 L772.0,577.4 L770.0,577.7 L768.0,578.1 L766.0,578.4 L764.0,578.8 L762.0,579.1 L760.0,579.5 L758.0,579.8 L756.0,580.2 L754.0,580.5 L752.0,580.9 L750.0,581.3 L748.0,581.7 L746.0,582.1 L744.0,582.5 L742.0,582.8 L740.0,583.2 L738.0,583.4 L736.0,583.7 L734.0,583.9 L732.0,584.1 L730.0,584.3 L728.0,584.6 L726.0,584.9 L724.0,585.3 L722.0,585.6 L720.0,586.0 L718.0,586.3 L716.0,586.6 L714.0,587.0 L712.0,587.3 L710.0,587.6 L708.0,587.9 L706.0,588.2 L704.0,588.5 L702.0,588.9 L700.0,589.3 L698.0,589.6 L696.0,590.0 L694.0,590.3 L692.0,590.7 L690.0,591.0 L688.0,591.4 L686.0,591.7 L684.0,592.1 L682.0,592.4 L680.0,593.0 L678.0,593.5 L676.0,594.0 L674.0,594.6 L672.0,595.1 L670.0,595.7 L668.0,596.2 L666.0,596.7 L664.0,597.2 L662.0,597.7 L660.0,598.2 L658.0,598.7 L656.0,599.3 L654.0,599.9 L652.0,600.5 L650.0,601.1 L648.0,601.7 L646.0,602.3 L644.0,602.8 L642.0,603.4 L640.0,603.9 L638.0,604.5 L636.0,605.1 L634.0,605.8 L632.0,606.5 L630.0,607.3 L628.0,608.0 L626.0,608.8 L624.0,609.5 L622.0,610.2 L620.0,610.9 L618.0,611.5 L616.0,612.2 L614.0,612.9 L612.0,613.5 L610.0,614.1 L608.0,614.6 L606.0,615.1 L604.0,615.7 L602.0,616.2 L600.0,616.7 L598.0,617.3 L596.0,617.9 L594.0,618.5 L592.0,619.0 L590.0,619.6 L588.0,620.1 L586.0,620.5 L584.0,620.9 L582.0,621.3 L580.0,621.8 L578.0,622.2 L576.0,622.6 L574.0,623.1 L572.0,623.5 L570.0,624.0 L568.0,624.4 L566.0,624.9 L564.0,625.2 L562.0,625.5 L560.0,625.7 L558.0,626.0 L556.0,626.3 L554.0,626.6 L552.0,626.9 L550.0,627.2 L548.0,627.4 L546.0,627.7 L544.0,628.0 L542.0,628.3 L540.0,628.6 L538.0,628.9 L536.0,629.2 L534.0,629.6 L532.0,629.9 L530.0,630.2 L528.0,630.5 L526.0,630.8 L524.0,631.1 L522.0,631.4 L520.0,631.8 L518.0,632.2 L516.0,632.7 L514.0,633.1 L512.0,633.6 L510.0,634.1 L508.0,634.5 L506.0,634.8 L504.0,635.0 L502.0,635.2 L500.0,635.5 L498.0,635.7 L496.0,635.9 L494.0,636.0 L492.0,636.1 L490.0,636.2 L488.0,636.3 Z" fill="#c8f0c8" fill-opacity="0.85"/>
<path d="M84.0,617.5 L86.0,617.9 L88.0,618.2 L90.0,618.3 L92.0,618.0 L94.0,617.6 L96.0,617.3 L98.0,617.0 L98.0,617.0 L96.0,617.0 L94.0,617.1 L92.0,617.1 L90.0,617.2 L88.0,617.2 L86.0,617.2 L84.0,617.2 Z" fill="#fbd0d0" fill-opacity="0.85"/>
<path d="M142.0,616.3 L144.0,616.4 L146.0,616.5 L148.0,616.8 L150.0,617.1 L152.0,617.4 L154.0,617.7 L156.0,618.0 L158.0,618.3 L160.0,618.7 L162.0,619.0 L164.0,619.4 L166.0,619.8 L168.0,620.1 L170.0,620.5 L172.0,620.9 L174.0,621.2 L176.0,621.6 L178.0,622.0 L180.0,622.3 L182.0,622.7 L184.0,623.3 L186.0,623.8 L188.0,624.4 L190.0,625.0 L192.0,625.6 L194.0,626.1 L196.0,626.7 L198.0,627.3 L200.0,627.9 L202.0,628.4 L204.0,629.0 L206.0,629.3 L208.0,629.3 L210.0,629.3 L212.0,629.4 L214.0,629.4 L216.0,629.4 L218.0,629.4 L220.0,629.4 L222.0,629.4 L224.0,629.5 L226.0,629.5 L228.0,629.5 L230.0,629.6 L232.0,629.9 L234.0,630.2 L236.0,630.5 L238.0,630.7 L240.0,631.0 L242.0,631.3 L244.0,631.6 L246.0,631.9 L248.0,632.1 L250.0,632.4 L252.0,632.6 L254.0,632.9 L256.0,633.1 L258.0,633.4 L260.0,633.7 L262.0,633.9 L264.0,634.2 L266.0,634.4 L268.0,634.7 L270.0,635.0 L272.0,635.2 L274.0,635.5 L276.0,635.4 L278.0,635.0 L280.0,634.6 L282.0,634.2 L284.0,633.8 L286.0,633.4 L288.0,633.3 L290.0,633.2 L292.0,633.2 L294.0,633.1 L296.0,633.1 L298.0,633.0 L300.0,632.8 L302.0,632.2 L304.0,631.6 L304.0,631.5 L302.0,631.6 L300.0,631.8 L298.0,631.7 L296.0,631.7 L294.0,631.6 L292.0,631.5 L290.0,631.4 L288.0,631.4 L286.0,631.2 L284.0,631.0 L282.0,630.8 L280.0,630.6 L278.0,630.3 L276.0,630.1 L274.0,629.9 L272.0,629.6 L270.0,629.4 L268.0,629.1 L266.0,628.8 L264.0,628.6 L262.0,628.3 L260.0,628.1 L258.0,627.8 L256.0,627.5 L254.0,627.3 L252.0,627.0 L250.0,626.8 L248.0,626.5 L246.0,626.3 L244.0,626.1 L242.0,625.9 L240.0,625.7 L238.0,625.6 L236.0,625.4 L234.0,625.2 L232.0,625.1 L230.0,624.9 L228.0,624.7 L226.0,624.4 L224.0,624.2 L222.0,623.9 L220.0,623.6 L218.0,623.4 L216.0,623.1 L214.0,622.9 L212.0,622.6 L210.0,622.3 L208.0,622.1 L206.0,621.8 L204.0,621.6 L202.0,621.3 L200.0,621.0 L198.0,620.8 L196.0,620.5 L194.0,620.2 L192.0,619.9 L190.0,619.7 L188.0,619.4 L186.0,619.1 L184.0,618.9 L182.0,618.6 L180.0,618.4 L178.0,618.2 L176.0,618.1 L174.0,617.9 L172.0,617.7 L170.0,617.5 L168.0,617.4 L166.0,617.2 L164.0,617.0 L162.0,616.8 L160.0,616.6 L158.0,616.5 L156.0,616.5 L154.0,616.4 L152.0,616.4 L150.0,616.3 L148.0,616.2 L146.0,616.2 L144.0,616.2 L142.0,616.3 Z" fill="#fbd0d0" fill-opacity="0.85"/>
<path d="M380.0,626.9 L382.0,627.3 L384.0,627.7 L386.0,628.1 L388.0,628.5 L390.0,628.9 L392.0,629.4 L394.0,630.0 L396.0,630.6 L398.0,631.3 L400.0,631.9 L402.0,632.5 L404.0,633.0 L406.0,633.5 L408.0,634.0 L410.0,634.4 L412.0,634.9 L414.0,635.3 L416.0,635.4 L418.0,635.5 L420.0,635.5 L422.0,635.5 L424.0,635.6 L426.0,635.6 L428.0,635.7 L430.0,635.8 L432.0,636.0 L434.0,636.1 L436.0,636.3 L438.0,636.5 L440.0,636.7 L442.0,636.9 L444.0,637.1 L446.0,637.3 L448.0,637.5 L450.0,637.7 L452.0,637.9 L454.0,638.2 L456.0,638.5 L458.0,638.7 L460.0,639.0 L462.0,639.2 L464.0,639.2 L466.0,639.2 L468.0,639.2 L470.0,639.2 L472.0,639.2 L474.0,639.0 L476.0,638.6 L478.0,638.2 L480.0,637.8 L482.0,637.4 L484.0,637.0 L486.0,636.6 L486.0,636.3 L484.0,636.4 L482.0,636.2 L480.0,636.1 L478.0,636.0 L476.0,635.9 L474.0,635.8 L472.0,635.7 L470.0,635.6 L468.0,635.5 L466.0,635.3 L464.0,635.2 L462.0,635.1 L460.0,634.9 L458.0,634.7 L456.0,634.4 L454.0,634.2 L452.0,634.0 L450.0,633.8 L448.0,633.5 L446.0,633.3 L444.0,633.1 L442.0,632.8 L440.0,632.6 L438.0,632.4 L436.0,632.2 L434.0,632.0 L432.0,631.8 L430.0,631.6 L428.0,631.4 L426.0,631.2 L424.0,631.0 L422.0,630.8 L420.0,630.6 L418.0,630.4 L416.0,630.2 L414.0,630.0 L412.0,629.8 L410.0,629.6 L408.0,629.4 L406.0,629.2 L404.0,629.1 L402.0,628.9 L400.0,628.7 L398.0,628.5 L396.0,628.3 L394.0,628.1 L392.0,628.0 L390.0,627.8 L388.0,627.6 L386.0,627.4 L384.0,627.3 L382.0,627.1 L380.0,626.9 Z" fill="#fbd0d0" fill-opacity="0.85"/>
<path d="M874.0,566.3 L876.0,566.7 L878.0,567.0 L880.0,567.4 L882.0,567.7 L884.0,568.1 L886.0,568.5 L888.0,568.8 L890.0,569.2 L892.0,569.6 L894.0,570.0 L896.0,570.4 L898.0,570.9 L900.0,571.3 L902.0,571.7 L904.0,572.1 L906.0,572.6 L908.0,573.0 L910.0,573.4 L912.0,573.8 L914.0,574.2 L916.0,574.5 L918.0,574.8 L920.0,575.0 L922.0,575.3 L924.0,575.5 L926.0,575.8 L928.0,576.0 L930.0,576.2 L932.0,576.5 L934.0,576.7 L936.0,576.9 L938.0,577.1 L940.0,577.5 L942.0,577.9 L944.0,578.3 L946.0,578.7 L948.0,579.1 L950.0,579.5 L952.0,579.8 L954.0,580.1 L956.0,580.4 L958.0,580.7 L960.0,581.0 L962.0,581.3 L964.0,581.6 L966.0,581.9 L968.0,582.2 L970.0,582.5 L972.0,582.8 L974.0,583.1 L976.0,583.4 L978.0,583.7 L980.0,584.1 L982.0,584.4 L984.0,584.7 L986.0,584.9 L988.0,585.1 L990.0,585.2 L992.0,585.4 L994.0,585.6 L996.0,585.8 L998.0,586.1 L1000.0,586.3 L1002.0,586.6 L1004.0,586.9 L1006.0,587.1 L1008.0,587.5 L1010.0,588.0 L1012.0,588.5 L1014.0,589.0 L1016.0,589.6 L1018.0,590.1 L1020.0,590.6 L1022.0,591.2 L1024.0,591.7 L1026.0,592.2 L1028.0,592.7 L1030.0,593.2 L1032.0,593.7 L1034.0,594.2 L1036.0,594.7 L1038.0,595.2 L1040.0,595.7 L1042.0,596.2 L1044.0,596.2 L1046.0,596.2 L1048.0,596.2 L1050.0,596.2 L1052.0,596.2 L1054.0,596.2 L1056.0,596.5 L1058.0,596.7 L1060.0,596.9 L1062.0,597.1 L1064.0,597.3 L1066.0,597.6 L1068.0,597.7 L1070.0,597.9 L1072.0,598.1 L1074.0,598.3 L1076.0,598.4 L1078.0,598.6 L1080.0,598.8 L1082.0,598.4 L1084.0,598.1 L1086.0,597.7 L1088.0,597.3 L1088.6,597.2 L1088.6,593.9 L1088.0,593.9 L1086.0,593.7 L1084.0,593.6 L1082.0,593.5 L1080.0,593.4 L1078.0,593.2 L1076.0,593.1 L1074.0,592.9 L1072.0,592.7 L1070.0,592.6 L1068.0,592.4 L1066.0,592.2 L1064.0,592.0 L1062.0,591.7 L1060.0,591.4 L1058.0,591.1 L1056.0,590.8 L1054.0,590.4 L1052.0,590.1 L1050.0,589.8 L1048.0,589.5 L1046.0,589.2 L1044.0,588.9 L1042.0,588.6 L1040.0,588.1 L1038.0,587.7 L1036.0,587.2 L1034.0,586.8 L1032.0,586.3 L1030.0,585.9 L1028.0,585.5 L1026.0,585.2 L1024.0,584.9 L1022.0,584.5 L1020.0,584.2 L1018.0,583.8 L1016.0,583.4 L1014.0,583.1 L1012.0,582.7 L1010.0,582.4 L1008.0,582.0 L1006.0,581.6 L1004.0,581.2 L1002.0,580.8 L1000.0,580.4 L998.0,580.0 L996.0,579.6 L994.0,579.4 L992.0,579.1 L990.0,578.9 L988.0,578.7 L986.0,578.4 L984.0,578.2 L982.0,577.9 L980.0,577.7 L978.0,577.4 L976.0,577.2 L974.0,577.0 L972.0,576.7 L970.0,576.5 L968.0,576.3 L966.0,576.1 L964.0,576.0 L962.0,575.8 L960.0,575.6 L958.0,575.4 L956.0,575.2 L954.0,575.0 L952.0,574.8 L950.0,574.6 L948.0,574.3 L946.0,574.0 L944.0,573.7 L942.0,573.5 L940.0,573.2 L938.0,572.9 L936.0,572.6 L934.0,572.3 L932.0,572.0 L930.0,571.8 L928.0,571.5 L926.0,571.2 L924.0,571.0 L922.0,570.7 L920.0,570.5 L918.0,570.3 L916.0,570.1 L914.0,569.8 L912.0,569.6 L910.0,569.4 L908.0,569.2 L906.0,569.0 L904.0,568.7 L902.0,568.5 L900.0,568.3 L898.0,568.1 L896.0,567.8 L894.0,567.6 L892.0,567.4 L890.0,567.2 L888.0,567.1 L886.0,567.0 L884.0,566.9 L882.0,566.7 L880.0,566.6 L878.0,566.5 L876.0,566.4 L874.0,566.2 Z" fill="#fbd0d0" fill-opacity="0.85"/>
<g shape-rendering="crispEdges">
<rect x="4" y="607" width="9" height="4" fill="#1f9a2f"/>
<rect x="5" y="608" width="7" height="3" fill="url(#hg)"/>
<rect x="15" y="608" width="9" height="3" fill="#1f9a2f"/>
<rect x="16" y="609" width="7" height="2" fill="url(#hg)"/>
<rect x="27" y="609" width="9" height="2" fill="#1f9a2f"/>
<rect x="28" y="610" width="7" height="1" fill="url(#hg)"/>
<rect x="39" y="610" width="9" height="1" fill="#1f9a2f"/>
<rect x="50" y="610" width="9" height="1" fill="#1f9a2f"/>
<rect x="62" y="610" width="9" height="1" fill="#1f9a2f"/>
<rect x="74" y="610" width="9" height="1" fill="#1f9a2f"/>
<rect x="97" y="610" width="9" height="1" fill="#1f9a2f"/>
<rect x="108" y="609" width="9" height="2" fill="#1f9a2f"/>
<rect x="109" y="610" width="7" height="1" fill="url(#hg)"/>
<rect x="120" y="610" width="9" height="1" fill="#1f9a2f"/>
<rect x="132" y="610" width="9" height="1" fill="#1f9a2f"/>
<rect x="155" y="612" width="9" height="2" fill="#b03030"/>
<rect x="156" y="612" width="7" height="1" fill="url(#hr)"/>
<rect x="166" y="612" width="9" height="3" fill="#b03030"/>
<rect x="167" y="612" width="7" height="2" fill="url(#hr)"/>
<rect x="178" y="612" width="9" height="4" fill="#b03030"/>
<rect x="179" y="612" width="7" height="3" fill="url(#hr)"/>
<rect x="190" y="612" width="9" height="6" fill="#b03030"/>
<rect x="191" y="612" width="7" height="5" fill="url(#hr)"/>
<rect x="201" y="612" width="9" height="7" fill="#b03030"/>
<rect x="202" y="612" width="7" height="6" fill="url(#hr)"/>
<rect x="213" y="612" width="9" height="6" fill="#b03030"/>
<rect x="214" y="612" width="7" height="5" fill="url(#hr)"/>
<rect x="225" y="612" width="9" height="5" fill="#b03030"/>
<rect x="226" y="612" width="7" height="4" fill="url(#hr)"/>
<rect x="236" y="612" width="9" height="5" fill="#b03030"/>
<rect x="237" y="612" width="7" height="4" fill="url(#hr)"/>
<rect x="248" y="612" width="9" height="6" fill="#b03030"/>
<rect x="249" y="612" width="7" height="5" fill="url(#hr)"/>
<rect x="259" y="612" width="9" height="6" fill="#b03030"/>
<rect x="260" y="612" width="7" height="5" fill="url(#hr)"/>
<rect x="271" y="612" width="9" height="5" fill="#b03030"/>
<rect x="272" y="612" width="7" height="4" fill="url(#hr)"/>
<rect x="283" y="612" width="9" height="3" fill="#b03030"/>
<rect x="284" y="612" width="7" height="2" fill="url(#hr)"/>
<rect x="294" y="612" width="9" height="2" fill="#b03030"/>
<rect x="295" y="612" width="7" height="1" fill="url(#hr)"/>
<rect x="306" y="610" width="9" height="1" fill="#1f9a2f"/>
<rect x="318" y="607" width="9" height="4" fill="#1f9a2f"/>
<rect x="319" y="608" width="7" height="3" fill="url(#hg)"/>
<rect x="329" y="607" width="9" height="4" fill="#1f9a2f"/>
<rect x="330" y="608" width="7" height="3" fill="url(#hg)"/>
<rect x="341" y="609" width="9" height="2" fill="#1f9a2f"/>
<rect x="342" y="610" width="7" height="1" fill="url(#hg)"/>
<rect x="352" y="609" width="9" height="2" fill="#1f9a2f"/>
<rect x="353" y="610" width="7" height="1" fill="url(#hg)"/>
<rect x="364" y="609" width="9" height="2" fill="#1f9a2f"/>
<rect x="365" y="610" width="7" height="1" fill="url(#hg)"/>
<rect x="387" y="612" width="9" height="1" fill="#b03030"/>
<rect x="399" y="612" width="9" height="4" fill="#b03030"/>
<rect x="400" y="612" width="7" height="3" fill="url(#hr)"/>
<rect x="410" y="612" width="9" height="5" fill="#b03030"/>
<rect x="411" y="612" width="7" height="4" fill="url(#hr)"/>
<rect x="422" y="612" width="9" height="4" fill="#b03030"/>
<rect x="423" y="612" width="7" height="3" fill="url(#hr)"/>
<rect x="434" y="612" width="9" height="4" fill="#b03030"/>
<rect x="435" y="612" width="7" height="3" fill="url(#hr)"/>
<rect x="445" y="612" width="9" height="4" fill="#b03030"/>
<rect x="446" y="612" width="7" height="3" fill="url(#hr)"/>
<rect x="457" y="612" width="9" height="5" fill="#b03030"/>
<rect x="458" y="612" width="7" height="4" fill="url(#hr)"/>
<rect x="469" y="612" width="9" height="3" fill="#b03030"/>
<rect x="470" y="612" width="7" height="2" fill="url(#hr)"/>
<rect x="480" y="612" width="9" height="1" fill="#b03030"/>
<rect x="492" y="609" width="9" height="2" fill="#1f9a2f"/>
<rect x="493" y="610" width="7" height="1" fill="url(#hg)"/>
<rect x="503" y="606" width="9" height="5" fill="#1f9a2f"/>
<rect x="504" y="607" width="7" height="4" fill="url(#hg)"/>
<rect x="515" y="603" width="9" height="8" fill="#1f9a2f"/>
<rect x="516" y="604" width="7" height="7" fill="url(#hg)"/>
<rect x="527" y="603" width="9" height="8" fill="#1f9a2f"/>
<rect x="528" y="604" width="7" height="7" fill="url(#hg)"/>
<rect x="538" y="603" width="9" height="8" fill="#1f9a2f"/>
<rect x="539" y="604" width="7" height="7" fill="url(#hg)"/>
<rect x="550" y="602" width="9" height="9" fill="#1f9a2f"/>
<rect x="551" y="603" width="7" height="8" fill="url(#hg)"/>
<rect x="562" y="602" width="9" height="9" fill="#1f9a2f"/>
<rect x="563" y="603" width="7" height="8" fill="url(#hg)"/>
<rect x="573" y="601" width="9" height="10" fill="#1f9a2f"/>
<rect x="574" y="602" width="7" height="9" fill="url(#hg)"/>
<rect x="585" y="601" width="9" height="10" fill="#1f9a2f"/>
<rect x="586" y="602" width="7" height="9" fill="url(#hg)"/>
<rect x="596" y="599" width="9" height="12" fill="#1f9a2f"/>
<rect x="597" y="600" width="7" height="11" fill="url(#hg)"/>
<rect x="608" y="597" width="9" height="14" fill="#1f9a2f"/>
<rect x="609" y="598" width="7" height="13" fill="url(#hg)"/>
<rect x="620" y="596" width="9" height="15" fill="#1f9a2f"/>
<rect x="621" y="597" width="7" height="14" fill="url(#hg)"/>
<rect x="631" y="595" width="9" height="16" fill="#1f9a2f"/>
<rect x="632" y="596" width="7" height="15" fill="url(#hg)"/>
<rect x="643" y="596" width="9" height="15" fill="#1f9a2f"/>
<rect x="644" y="597" width="7" height="14" fill="url(#hg)"/>
<rect x="654" y="597" width="9" height="14" fill="#1f9a2f"/>
<rect x="655" y="598" width="7" height="13" fill="url(#hg)"/>
<rect x="666" y="598" width="9" height="13" fill="#1f9a2f"/>
<rect x="667" y="599" width="7" height="12" fill="url(#hg)"/>
<rect x="678" y="600" width="9" height="11" fill="#1f9a2f"/>
<rect x="679" y="601" width="7" height="10" fill="url(#hg)"/>
<rect x="689" y="601" width="9" height="10" fill="#1f9a2f"/>
<rect x="690" y="602" width="7" height="9" fill="url(#hg)"/>
<rect x="701" y="603" width="9" height="8" fill="#1f9a2f"/>
<rect x="702" y="604" width="7" height="7" fill="url(#hg)"/>
<rect x="713" y="605" width="9" height="6" fill="#1f9a2f"/>
<rect x="714" y="606" width="7" height="5" fill="url(#hg)"/>
<rect x="724" y="605" width="9" height="6" fill="#1f9a2f"/>
<rect x="725" y="606" width="7" height="5" fill="url(#hg)"/>
<rect x="736" y="605" width="9" height="6" fill="#1f9a2f"/>
<rect x="737" y="606" width="7" height="5" fill="url(#hg)"/>
<rect x="747" y="603" width="9" height="8" fill="#1f9a2f"/>
<rect x="748" y="604" width="7" height="7" fill="url(#hg)"/>
<rect x="759" y="604" width="9" height="7" fill="#1f9a2f"/>
<rect x="760" y="605" width="7" height="6" fill="url(#hg)"/>
<rect x="771" y="603" width="9" height="8" fill="#1f9a2f"/>
<rect x="772" y="604" width="7" height="7" fill="url(#hg)"/>
<rect x="782" y="603" width="9" height="8" fill="#1f9a2f"/>
<rect x="783" y="604" width="7" height="7" fill="url(#hg)"/>
<rect x="794" y="604" width="9" height="7" fill="#1f9a2f"/>
<rect x="795" y="605" width="7" height="6" fill="url(#hg)"/>
<rect x="805" y="603" width="9" height="8" fill="#1f9a2f"/>
<rect x="806" y="604" width="7" height="7" fill="url(#hg)"/>
<rect x="817" y="604" width="9" height="7" fill="#1f9a2f"/>
<rect x="818" y="605" width="7" height="6" fill="url(#hg)"/>
<rect x="829" y="605" width="9" height="6" fill="#1f9a2f"/>
<rect x="830" y="606" width="7" height="5" fill="url(#hg)"/>
<rect x="840" y="605" width="9" height="6" fill="#1f9a2f"/>
<rect x="841" y="606" width="7" height="5" fill="url(#hg)"/>
<rect x="852" y="608" width="9" height="3" fill="#1f9a2f"/>
<rect x="853" y="609" width="7" height="2" fill="url(#hg)"/>
<rect x="864" y="610" width="9" height="1" fill="#1f9a2f"/>
<rect x="875" y="612" width="9" height="1" fill="#b03030"/>
<rect x="887" y="612" width="9" height="2" fill="#b03030"/>
<rect x="888" y="612" width="7" height="1" fill="url(#hr)"/>
<rect x="898" y="612" width="9" height="4" fill="#b03030"/>
<rect x="899" y="612" width="7" height="3" fill="url(#hr)"/>
<rect x="910" y="612" width="9" height="5" fill="#b03030"/>
<rect x="911" y="612" width="7" height="4" fill="url(#hr)"/>
<rect x="922" y="612" width="9" height="6" fill="#b03030"/>
<rect x="923" y="612" width="7" height="5" fill="url(#hr)"/>
<rect x="933" y="612" width="9" height="6" fill="#b03030"/>
<rect x="934" y="612" width="7" height="5" fill="url(#hr)"/>
<rect x="945" y="612" width="9" height="6" fill="#b03030"/>
<rect x="946" y="612" width="7" height="5" fill="url(#hr)"/>
<rect x="957" y="612" width="9" height="6" fill="#b03030"/>
<rect x="958" y="612" width="7" height="5" fill="url(#hr)"/>
<rect x="968" y="612" width="9" height="6" fill="#b03030"/>
<rect x="969" y="612" width="7" height="5" fill="url(#hr)"/>
<rect x="980" y="612" width="9" height="6" fill="#b03030"/>
<rect x="981" y="612" width="7" height="5" fill="url(#hr)"/>
<rect x="991" y="612" width="9" height="6" fill="#b03030"/>
<rect x="992" y="612" width="7" height="5" fill="url(#hr)"/>
<rect x="1003" y="612" width="9" height="6" fill="#b03030"/>
<rect x="1004" y="612" width="7" height="5" fill="url(#hr)"/>
<rect x="1015" y="612" width="9" height="8" fill="#b03030"/>
<rect x="1016" y="612" width="7" height="7" fill="url(#hr)"/>
<rect x="1026" y="612" width="9" height="8" fill="#b03030"/>
<rect x="1027" y="612" width="7" height="7" fill="url(#hr)"/>
<rect x="1038" y="612" width="9" height="8" fill="#b03030"/>
<rect x="1039" y="612" width="7" height="7" fill="url(#hr)"/>
<rect x="1049" y="612" width="9" height="7" fill="#b03030"/>
<rect x="1050" y="612" width="7" height="6" fill="url(#hr)"/>
<rect x="1061" y="612" width="9" height="6" fill="#b03030"/>
<rect x="1062" y="612" width="7" height="5" fill="url(#hr)"/>
<rect x="1073" y="612" width="9" height="5" fill="#b03030"/>
<rect x="1074" y="612" width="7" height="4" fill="url(#hr)"/>
<rect x="1084" y="612" width="9" height="4" fill="#b03030"/>
<rect x="1085" y="612" width="7" height="3" fill="url(#hr)"/>
<rect x="1" y="611" width="1127" height="1" fill="#2a2ae0"/>
</g>
<path d="M0.0,620.0 L20.0,618.2 L41.0,617.6 L89.4,617.2 L112.5,616.6 L147.0,616.2 L159.6,616.6 L182.0,618.6 L205.0,621.7 L229.0,624.8 L245.6,626.2 L275.0,630.0 L286.5,631.3 L299.3,631.8 L322.3,630.2 L345.3,628.2 L368.3,626.9 L379.8,626.9 L391.4,627.9 L414.4,630.0 L437.4,632.3 L461.7,635.1 L484.7,636.4 L496.2,635.9 L507.7,634.6 L519.7,631.8 L542.7,628.2 L566.0,624.9 L577.5,622.3 L589.3,619.8 L600.8,616.5 L612.5,613.4 L624.0,609.5 L635.5,605.2 L647.3,601.9 L658.8,598.5 L670.6,595.5 L682.1,592.4 L693.6,590.4 L705.4,588.3 L716.9,586.5 L728.6,584.5 L740.2,583.2 L751.9,580.9 L763.4,578.9 L775.2,576.8 L786.7,574.5 L798.4,573.0 L821.4,569.4 L844.7,566.8 L856.5,566.1 L868.0,565.8 L879.5,566.6 L891.3,567.3 L902.8,568.6 L914.5,569.9 L926.0,571.2 L949.3,574.5 L972.6,576.8 L995.9,579.6 L1007.4,581.9 L1019.1,584.0 L1030.6,586.0 L1042.1,588.6 L1053.7,590.4 L1065.4,592.2 L1080.0,593.4 L1088.6,593.9" fill="none" stroke="#e86060" stroke-width="1"/>
<path d="M0.0,615.8 L8.5,615.6 L20.0,616.6 L54.0,617.4 L78.0,616.6 L89.4,618.4 L112.5,614.6 L124.8,615.4 L147.0,616.6 L159.6,618.6 L182.0,622.7 L205.0,629.3 L229.0,629.5 L245.6,631.8 L275.0,635.6 L286.5,633.3 L299.3,633.0 L309.5,630.0 L322.3,626.9 L332.5,625.4 L345.3,626.4 L358.0,626.4 L368.3,625.1 L379.8,626.9 L391.4,629.2 L402.9,632.8 L414.4,635.4 L427.2,635.6 L437.4,636.4 L450.2,637.7 L461.7,639.2 L473.2,639.2 L484.7,636.9 L496.2,634.6 L508.0,628.7 L519.7,624.6 L531.2,621.8 L542.7,619.8 L554.5,617.2 L566.0,615.4 L577.5,612.6 L589.3,609.5 L600.8,603.7 L612.5,598.0 L624.0,592.9 L635.5,589.1 L647.3,585.8 L658.8,584.0 L670.6,582.2 L682.1,581.4 L693.6,580.1 L705.4,580.1 L716.9,580.1 L728.6,578.1 L740.2,577.1 L751.9,573.2 L763.4,571.9 L775.2,569.9 L786.7,567.3 L798.4,565.6 L809.9,564.0 L821.4,562.2 L833.2,562.2 L844.7,561.2 L856.5,563.5 L868.0,565.3 L879.5,567.3 L891.3,569.4 L902.8,571.9 L914.5,574.3 L926.0,575.8 L937.8,577.1 L949.3,579.4 L961.1,581.2 L972.6,582.9 L984.1,584.7 L995.9,585.8 L1007.4,587.3 L1019.1,590.4 L1030.6,593.4 L1042.1,596.2 L1053.7,596.2 L1065.4,597.5 L1080.0,598.8 L1088.6,597.2" fill="none" stroke="#2a2ae6" stroke-width="1.1"/>
<g shape-rendering="crispEdges">
<rect x="1127" y="553" width="1" height="91" fill="#6f8c9b"/>
<rect x="0" y="643" width="1128" height="1" fill="#6f8c9b"/>
<rect x="1127" y="558" width="5" height="1" fill="#6f8c9b"/>
<rect x="1127" y="584" width="5" height="1" fill="#6f8c9b"/>
<rect x="1127" y="638" width="5" height="1" fill="#6f8c9b"/>
<rect x="1127" y="571" width="3" height="1" fill="#6f8c9b"/>
<rect x="1127" y="598" width="3" height="1" fill="#6f8c9b"/>
<rect x="1127" y="624" width="3" height="1" fill="#6f8c9b"/>
<rect x="8" y="644" width="1" height="3" fill="#6f8c9b"/>
<rect x="31" y="644" width="1" height="3" fill="#6f8c9b"/>
<rect x="54" y="644" width="1" height="3" fill="#6f8c9b"/>
<rect x="66" y="644" width="1" height="3" fill="#6f8c9b"/>
<rect x="89" y="644" width="1" height="3" fill="#6f8c9b"/>
<rect x="112" y="644" width="1" height="3" fill="#6f8c9b"/>
<rect x="124" y="644" width="1" height="3" fill="#6f8c9b"/>
<rect x="147" y="644" width="1" height="3" fill="#6f8c9b"/>
<rect x="170" y="644" width="1" height="3" fill="#6f8c9b"/>
<rect x="182" y="644" width="1" height="3" fill="#6f8c9b"/>
<rect x="205" y="644" width="1" height="3" fill="#6f8c9b"/>
<rect x="229" y="644" width="1" height="3" fill="#6f8c9b"/>
<rect x="240" y="644" width="1" height="3" fill="#6f8c9b"/>
<rect x="263" y="644" width="1" height="3" fill="#6f8c9b"/>
<rect x="287" y="644" width="1" height="3" fill="#6f8c9b"/>
<rect x="298" y="644" width="1" height="3" fill="#6f8c9b"/>
<rect x="322" y="644" width="1" height="3" fill="#6f8c9b"/>
<rect x="345" y="644" width="1" height="3" fill="#6f8c9b"/>
<rect x="356" y="644" width="1" height="3" fill="#6f8c9b"/>
<rect x="380" y="644" width="1" height="3" fill="#6f8c9b"/>
<rect x="403" y="644" width="1" height="3" fill="#6f8c9b"/>
<rect x="414" y="644" width="1" height="3" fill="#6f8c9b"/>
<rect x="438" y="644" width="1" height="3" fill="#6f8c9b"/>
<rect x="461" y="644" width="1" height="3" fill="#6f8c9b"/>
<rect x="473" y="644" width="1" height="3" fill="#6f8c9b"/>
<rect x="496" y="644" width="1" height="3" fill="#6f8c9b"/>
<rect x="519" y="644" width="1" height="3" fill="#6f8c9b"/>
<rect x="531" y="644" width="1" height="3" fill="#6f8c9b"/>
<rect x="554" y="644" width="1" height="3" fill="#6f8c9b"/>
<rect x="577" y="644" width="1" height="3" fill="#6f8c9b"/>
<rect x="589" y="644" width="1" height="3" fill="#6f8c9b"/>
<rect x="612" y="644" width="1" height="3" fill="#6f8c9b"/>
<rect x="635" y="644" width="1" height="3" fill="#6f8c9b"/>
<rect x="647" y="644" width="1" height="3" fill="#6f8c9b"/>
<rect x="670" y="644" width="1" height="3" fill="#6f8c9b"/>
<rect x="693" y="644" width="1" height="3" fill="#6f8c9b"/>
<rect x="705" y="644" width="1" height="3" fill="#6f8c9b"/>
<rect x="728" y="644" width="1" height="3" fill="#6f8c9b"/>
<rect x="751" y="644" width="1" height="3" fill="#6f8c9b"/>
<rect x="763" y="644" width="1" height="3" fill="#6f8c9b"/>
<rect x="786" y="644" width="1" height="3" fill="#6f8c9b"/>
<rect x="809" y="644" width="1" height="3" fill="#6f8c9b"/>
<rect x="821" y="644" width="1" height="3" fill="#6f8c9b"/>
<rect x="844" y="644" width="1" height="3" fill="#6f8c9b"/>
<rect x="868" y="644" width="1" height="3" fill="#6f8c9b"/>
<rect x="879" y="644" width="1" height="3" fill="#6f8c9b"/>
<rect x="902" y="644" width="1" height="3" fill="#6f8c9b"/>
<rect x="926" y="644" width="1" height="3" fill="#6f8c9b"/>
<rect x="937" y="644" width="1" height="3" fill="#6f8c9b"/>
<rect x="961" y="644" width="1" height="3" fill="#6f8c9b"/>
<rect x="984" y="644" width="1" height="3" fill="#6f8c9b"/>
<rect x="995" y="644" width="1" height="3" fill="#6f8c9b"/>
<rect x="1019" y="644" width="1" height="3" fill="#6f8c9b"/>
<rect x="1042" y="644" width="1" height="3" fill="#6f8c9b"/>
<rect x="1053" y="644" width="1" height="3" fill="#6f8c9b"/>
<rect x="1077" y="644" width="1" height="3" fill="#6f8c9b"/>
<rect x="1100" y="644" width="1" height="3" fill="#6f8c9b"/>
<rect x="1112" y="644" width="1" height="3" fill="#6f8c9b"/>
</g>
<text x="1134" y="561.6" class="s" font-size="10" fill="#000" textLength="14.5" lengthAdjust="spacingAndGlyphs">400</text>
<text x="1134" y="587.6" class="s" font-size="10" fill="#000" textLength="14.5" lengthAdjust="spacingAndGlyphs">200</text>
<text x="1131.5" y="641.6" class="s" font-size="10" fill="#000" textLength="18" lengthAdjust="spacingAndGlyphs">-200</text>
<text x="7.6" y="656" class="s" font-size="10" fill="#000" text-anchor="middle" textLength="10" lengthAdjust="spacingAndGlyphs">04</text>
<text x="30.6" y="656" class="s" font-size="10" fill="#000" text-anchor="middle" textLength="10" lengthAdjust="spacingAndGlyphs">06</text>
<text x="53.6" y="656" class="s" font-size="10" fill="#000" text-anchor="middle" textLength="10" lengthAdjust="spacingAndGlyphs">08</text>
<text x="88.6" y="656" class="s" font-size="10" fill="#000" text-anchor="middle" textLength="10" lengthAdjust="spacingAndGlyphs">13</text>
<text x="111.6" y="656" class="s" font-size="10" fill="#000" text-anchor="middle" textLength="10" lengthAdjust="spacingAndGlyphs">15</text>
<text x="146.6" y="656" class="s" font-size="10" fill="#000" text-anchor="middle" textLength="10" lengthAdjust="spacingAndGlyphs">20</text>
<text x="169.6" y="656" class="s" font-size="10" fill="#000" text-anchor="middle" textLength="10" lengthAdjust="spacingAndGlyphs">22</text>
<text x="204.6" y="656" class="s" font-size="10" fill="#000" text-anchor="middle" textLength="10" lengthAdjust="spacingAndGlyphs">27</text>
<text x="240.0" y="656" class="s" font-size="10" fill="#000" text-anchor="middle">Oct</text>
<text x="262.6" y="656" class="s" font-size="10" fill="#000" text-anchor="middle" textLength="10" lengthAdjust="spacingAndGlyphs">04</text>
<text x="286.6" y="656" class="s" font-size="10" fill="#000" text-anchor="middle" textLength="10" lengthAdjust="spacingAndGlyphs">06</text>
<text x="321.6" y="656" class="s" font-size="10" fill="#000" text-anchor="middle" textLength="10" lengthAdjust="spacingAndGlyphs">11</text>
<text x="344.6" y="656" class="s" font-size="10" fill="#000" text-anchor="middle" textLength="10" lengthAdjust="spacingAndGlyphs">13</text>
<text x="379.6" y="656" class="s" font-size="10" fill="#000" text-anchor="middle" textLength="10" lengthAdjust="spacingAndGlyphs">18</text>
<text x="402.6" y="656" class="s" font-size="10" fill="#000" text-anchor="middle" textLength="10" lengthAdjust="spacingAndGlyphs">20</text>
<text x="437.6" y="656" class="s" font-size="10" fill="#000" text-anchor="middle" textLength="10" lengthAdjust="spacingAndGlyphs">25</text>
<text x="460.6" y="656" class="s" font-size="10" fill="#000" text-anchor="middle" textLength="10" lengthAdjust="spacingAndGlyphs">27</text>
<text x="496.0" y="656" class="s" font-size="10" fill="#000" text-anchor="middle">Nov</text>
<text x="518.6" y="656" class="s" font-size="10" fill="#000" text-anchor="middle" textLength="10" lengthAdjust="spacingAndGlyphs">03</text>
<text x="553.6" y="656" class="s" font-size="10" fill="#000" text-anchor="middle" textLength="10" lengthAdjust="spacingAndGlyphs">08</text>
<text x="576.6" y="656" class="s" font-size="10" fill="#000" text-anchor="middle" textLength="10" lengthAdjust="spacingAndGlyphs">10</text>
<text x="611.6" y="656" class="s" font-size="10" fill="#000" text-anchor="middle" textLength="10" lengthAdjust="spacingAndGlyphs">15</text>
<text x="634.6" y="656" class="s" font-size="10" fill="#000" text-anchor="middle" textLength="10" lengthAdjust="spacingAndGlyphs">17</text>
<text x="669.6" y="656" class="s" font-size="10" fill="#000" text-anchor="middle" textLength="10" lengthAdjust="spacingAndGlyphs">22</text>
<text x="692.6" y="656" class="s" font-size="10" fill="#000" text-anchor="middle" textLength="10" lengthAdjust="spacingAndGlyphs">24</text>
<text x="727.6" y="656" class="s" font-size="10" fill="#000" text-anchor="middle" textLength="10" lengthAdjust="spacingAndGlyphs">29</text>
<text x="751.0" y="656" class="s" font-size="10" fill="#000" text-anchor="middle">Dec</text>
<text x="785.6" y="656" class="s" font-size="10" fill="#000" text-anchor="middle" textLength="10" lengthAdjust="spacingAndGlyphs">06</text>
<text x="808.6" y="656" class="s" font-size="10" fill="#000" text-anchor="middle" textLength="10" lengthAdjust="spacingAndGlyphs">08</text>
<text x="843.6" y="656" class="s" font-size="10" fill="#000" text-anchor="middle" textLength="10" lengthAdjust="spacingAndGlyphs">13</text>
<text x="867.6" y="656" class="s" font-size="10" fill="#000" text-anchor="middle" textLength="10" lengthAdjust="spacingAndGlyphs">15</text>
<text x="901.6" y="656" class="s" font-size="10" fill="#000" text-anchor="middle" textLength="10" lengthAdjust="spacingAndGlyphs">20</text>
<text x="925.6" y="656" class="s" font-size="10" fill="#000" text-anchor="middle" textLength="10" lengthAdjust="spacingAndGlyphs">22</text>
<text x="960.6" y="656" class="s" font-size="10" fill="#000" text-anchor="middle" textLength="10" lengthAdjust="spacingAndGlyphs">27</text>
<text x="994.6" y="656" class="s" font-size="10" fill="#000" text-anchor="middle" textLength="20.2" lengthAdjust="spacingAndGlyphs">2024</text>
<text x="1018.6" y="656" class="s" font-size="10" fill="#000" text-anchor="middle" textLength="10" lengthAdjust="spacingAndGlyphs">03</text>
<text x="1041.6" y="656" class="s" font-size="10" fill="#000" text-anchor="middle" textLength="10" lengthAdjust="spacingAndGlyphs">05</text>
<text x="1076.6" y="656" class="s" font-size="10" fill="#000" text-anchor="middle" textLength="10" lengthAdjust="spacingAndGlyphs">10</text>
<text x="1099.8" y="656" class="s" font-size="10" fill="#000" text-anchor="middle" textLength="10" lengthAdjust="spacingAndGlyphs">12</text>
<g class="wm">
<mask id="wmk" maskUnits="userSpaceOnUse" x="900" y="540" width="273" height="120"><rect x="900" y="540" width="273" height="120" fill="#fff"/>
<g transform="translate(915,618) skewX(-13) scale(1.07,1)"><text class="cjk" x="0" y="0" font-size="58" font-weight="900" fill="#000" stroke="#000" stroke-width="1.5" stroke-linejoin="round" letter-spacing="4.5">猎马财经</text></g></mask>
<g mask="url(#wmk)" opacity="0.5"><g transform="translate(915,618) skewX(-13) scale(1.07,1)"><text class="cjk" x="1.5" y="1.6" font-size="58" font-weight="900" fill="#3c3c3c" stroke="#3c3c3c" stroke-width="1.5" stroke-linejoin="round" letter-spacing="4.5">猎马财经</text></g></g>
<g opacity="0.8"><g transform="translate(915,618) skewX(-13) scale(1.07,1)"><text class="cjk" x="0" y="0" font-size="58" font-weight="900" fill="#ffffff" stroke="#ffffff" stroke-width="1.5" stroke-linejoin="round" letter-spacing="4.5">猎马财经</text></g></g>
<g transform="translate(938,655) skewX(-16) scale(1.1,1)"><text x="0 25.1 51.3 71.6 91.8 118 142 156.5 181" y="0" font-size="33" font-weight="bold" fill="#5ab2ca" fill-opacity="0.88">zzrt01.cn</text></g>
</g>
<g opacity="0.62">
<rect x="1127" y="588.0" width="5" height="1" fill="#e83838" shape-rendering="crispEdges"/>
<rect x="1131.5" y="582.5" width="31.5" height="12.0" fill="#fff" fill-opacity="0.55" stroke="#5f7d8c" stroke-width="1"/>
<text x="1134" y="591.9" font-size="10" fill="#e83838" textLength="26.5" lengthAdjust="spacingAndGlyphs">130.47</text>
<rect x="1127" y="599.5" width="5" height="1" fill="#2222dd" shape-rendering="crispEdges"/>
<rect x="1131.5" y="594.5" width="31.5" height="11.0" fill="#fff" fill-opacity="0.55" stroke="#5f7d8c" stroke-width="1"/>
<text x="1134" y="602.9" font-size="10" fill="#2222dd" textLength="26.5" lengthAdjust="spacingAndGlyphs">100.61</text>
<rect x="1127" y="614.5" width="5" height="1" fill="#e84848" shape-rendering="crispEdges"/>
<rect x="1131.5" y="608.5" width="34.0" height="13.0" fill="#fff" fill-opacity="0.55" stroke="#5f7d8c" stroke-width="1"/>
<text x="1134" y="618.9" font-size="10" fill="#e84848" textLength="29.5" lengthAdjust="spacingAndGlyphs">-29.855</text>
</g>
<g shape-rendering="crispEdges"><rect x="0" y="0" width="1173" height="1" fill="#6f8c9b"/><rect x="0" y="0" width="1" height="660" fill="#6f8c9b"/><rect x="1172" y="0" width="1" height="660" fill="#6f8c9b"/><rect x="0" y="659" width="1173" height="1" fill="#6f8c9b"/></g>
</svg></body></html>
